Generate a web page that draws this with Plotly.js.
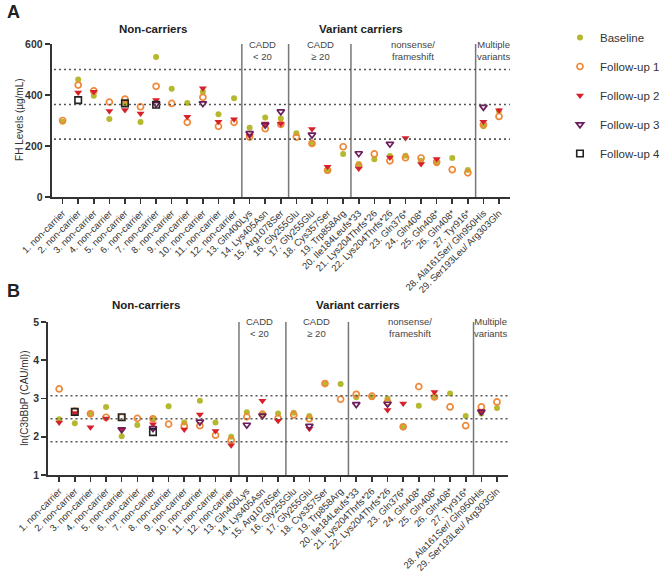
<!DOCTYPE html>
<html>
<head>
<meta charset="utf-8">
<script src="https://cdn.plot.ly/plotly-3.0.1.min.js"></script>
<style>html,body{margin:0;padding:0;background:#fff;}#chart{width:666px;height:573px;}</style>
</head>
<body>
<div id="chart"></div>
<script>
// ---------- Data ----------
const categories = [
  "1. non-carrier","2. non-carrier","3. non-carrier","4. non-carrier","5. non-carrier",
  "6. non-carrier","7. non-carrier","8. non-carrier","9. non-carrier","10. non-carrier",
  "11. non-carrier","12. non-carrier","13. Gln400Lys","14. Lys405Asn","15. Arg1078Ser",
  "16. Gly255Glu","17. Gly255Glu","18. Cys357Ser","19. Trp858Arg","20. Ile184Leufs*33",
  "21. Lys204Thrfs*26","22. Lys204Thrfs*26","23. Gln376*","24. Gln408*","25. Gln408*",
  "26. Gln408*","27. Tyr916*","28. Ala161Ser/ Gln950His","29. Ser193Leu/ Arg303Gln"
];
const seriesNames = ["Baseline","Follow-up 1","Follow-up 2","Follow-up 3","Follow-up 4"];

// Panel A: FH levels (µg/mL)
const fhBaseline = [295,461,397,306,366,294,549,425,369,413,325,387,272,312,308,250,212,102,169,129,148,161,162,142,132,153,106,277,337];
const fhFU1      = [300,439,416,372,384,354,434,367,293,391,277,293,235,268,285,235,210,105,197,122,169,142,154,153,137,107,95,283,316];
const fhFU2      = [null,410,413,337,341,327,380,null,315,426,295,305,240,288,287,null,267,119,null,112,null,155,231,129,149,null,null,295,340];
const fhFU3      = [null,null,null,null,null,null,365,null,null,367,null,null,250,283,335,null,244,null,null,171,null,208,null,null,null,null,null,353,null];
const fhFU4      = [null,380,null,null,367,null,362,null,null,null,null,null,null,null,null,null,null,null,null,null,null,null,null,null,null,null,null,null,null];
const fhRefLines = [500,363,227];

// Panel B: ln(C3bBbP (CAU/ml))
const c3Baseline = [2.46,2.35,2.61,2.78,2.01,2.31,2.48,2.80,2.37,2.94,2.37,2.00,2.64,2.59,2.61,2.63,2.54,3.39,3.38,3.03,3.03,3.00,2.26,2.81,3.04,3.13,2.54,2.61,2.75];
const c3FU1      = [3.25,2.67,2.60,2.51,2.51,2.48,2.47,2.33,2.28,2.29,2.04,1.91,2.52,2.59,2.48,2.57,2.47,3.39,2.98,3.11,3.06,2.91,2.26,3.31,3.04,2.78,2.29,2.78,2.91];
const c3FU2      = [2.37,2.62,2.25,2.48,2.20,null,2.33,null,2.19,2.58,2.15,1.78,null,2.94,2.42,null,2.21,null,null,null,null,2.70,2.87,null,3.17,null,null,2.67,null];
const c3FU3      = [null,null,null,null,2.19,null,2.22,null,null,2.39,null,null,2.31,2.55,null,null,2.28,null,null,2.85,null,2.86,null,null,null,null,null,2.65,null];
const c3FU4      = [null,2.65,null,null,2.51,null,2.12,null,null,null,null,null,null,null,null,null,null,null,null,null,null,null,null,null,null,null,null,null,null];
const c3RefLines = [3.07,2.47,1.87];

const groupBoundaries = [11.5,14.5,18.5,26.5];

// ---------- Styles ----------
const W = 666, H = 573;
const px = x => x / W;
const py = y => 1 - y / H;
const styles = [
  {symbol:"circle", size:6, color:"#b6b82f", line:{width:0}},
  {symbol:"circle-open", size:6, color:"#ef8838", line:{width:1.7, color:"#ef8838"}},
  {symbol:"triangle-down", size:7, color:"#d6212b", line:{width:0}},
  {symbol:"triangle-down-open", size:6.5, color:"#6b1d5c", line:{width:1.7, color:"#6b1d5c"}},
  {symbol:"square-open", size:6.5, color:"#222222", line:{width:1.6, color:"#222222"}}
];
const fhSeries = [fhBaseline, fhFU1, fhFU2, fhFU3, fhFU4];
const c3Series = [c3Baseline, c3FU1, c3FU2, c3FU3, c3FU4];

const traces = [];
fhSeries.forEach((vals, i) => traces.push({
  type:"scatter", mode:"markers", x:categories, y:vals, name:seriesNames[i],
  xaxis:"x", yaxis:"y", marker:styles[i], legendgroup:"g"+i, showlegend:true, cliponaxis:false
}));
c3Series.forEach((vals, i) => traces.push({
  type:"scatter", mode:"markers", x:categories, y:vals, name:seriesNames[i],
  xaxis:"x2", yaxis:"y2", marker:styles[i], legendgroup:"g"+i, showlegend:false, cliponaxis:false
}));

const FONT = "Liberation Sans, Arial, sans-serif";
const axisCommon = {
  showline:true, linecolor:"#333", linewidth:2, ticks:"outside", ticklen:5, tickwidth:1.6,
  tickcolor:"#333", showgrid:false, zeroline:false, fixedrange:true
};
const xCommon = Object.assign({}, axisCommon, {
  type:"category", range:[-0.7,28.7], tickangle:-45,
  tickfont:{family:FONT, size:9.5, color:"#333"}
});

const shapes = [];
const DOT = "2px,3px";
groupBoundaries.forEach(b => shapes.push({
  type:"line", xref:"x", yref:"y", x0:b, x1:b, y0:0, y1:600, line:{color:"#777", width:1.5}
}));
fhRefLines.forEach(v => shapes.push({
  type:"line", xref:"x domain", yref:"y", x0:0.005, x1:1, y0:v, y1:v,
  line:{color:"#555", width:1.6, dash:DOT}
}));
groupBoundaries.forEach(b => shapes.push({
  type:"line", xref:"x2", yref:"y2", x0:b, x1:b, y0:1, y1:5, line:{color:"#777", width:1.5}
}));
c3RefLines.forEach(v => shapes.push({
  type:"line", xref:"x2 domain", yref:"y2", x0:0.005, x1:1, y0:v, y1:v,
  line:{color:"#555", width:1.6, dash:DOT}
}));

const ann = [];
function txt(x, y, t, size, bold, color, angle) {
  ann.push({xref:"paper", yref:"paper", x:px(x), y:py(y), text:t, showarrow:false,
    xanchor:"center", yanchor:"middle", textangle: angle || 0,
    font:{family:FONT, size:size, color:color||"#222", weight: bold ? "bold" : "normal"}});
}
txt(14, 12, "A", 18, true, "#222");
txt(14, 291, "B", 18, true, "#222");
// axis titles
txt(19, 120, "FH Levels (µg/mL)", 10, false, "#333", -90);
txt(24, 398, "ln(C3bBbP (CAU/ml))", 10, false, "#333", -90);
// Panel A headers
txt(154, 29, "Non-carriers", 11.5, true);
txt(363, 29, "Variant carriers", 11.5, true);
txt(264, 50, "CADD<br>&lt; 20", 9.5, false, "#444");
txt(322, 50, "CADD<br>≥ 20", 9.5, false, "#444");
txt(415, 50, "nonsense/<br>frameshift", 9.5, false, "#444");
txt(497, 50, "Multiple<br>variants", 9.5, false, "#444");
// Panel B headers
txt(147, 305, "Non-carriers", 11.5, true);
txt(360, 305, "Variant carriers", 11.5, true);
txt(261, 327, "CADD<br>&lt; 20", 9.5, false, "#444");
txt(318, 327, "CADD<br>≥ 20", 9.5, false, "#444");
txt(412, 327, "nonsense/<br>frameshift", 9.5, false, "#444");
txt(494, 327, "Multiple<br>variants", 9.5, false, "#444");

const layout = {
  width:W, height:H, margin:{l:0,r:0,t:0,b:0}, paper_bgcolor:"#fff", plot_bgcolor:"rgba(0,0,0,0)",
  font:{family:FONT, color:"#333"},
  xaxis: Object.assign({}, xCommon, {domain:[px(52), px(513)], anchor:"y"}),
  yaxis: Object.assign({}, axisCommon, {domain:[py(197), py(44)], anchor:"x", range:[0,600],
    tickvals:[0,200,400,600], tickfont:{family:FONT, size:10.5, color:"#333", weight:"bold"}}),
  xaxis2: Object.assign({}, xCommon, {domain:[px(48.5), px(511)], anchor:"y2"}),
  yaxis2: Object.assign({}, axisCommon, {domain:[py(475), py(322)], anchor:"x2", range:[1,5],
    tickvals:[1,2,3,4,5], tickfont:{family:FONT, size:10.5, color:"#333", weight:"bold"}}),
  showlegend:true,
  legend:{x:1.006, y:py(23), xanchor:"right", yanchor:"top", tracegroupgap:10,
    font:{family:FONT, size:11.5, color:"#333"}, bgcolor:"rgba(0,0,0,0)"},
  shapes:shapes, annotations:ann
};

Plotly.newPlot("chart", traces, layout, {staticPlot:true, displayModeBar:false});
</script>
</body>
</html>
